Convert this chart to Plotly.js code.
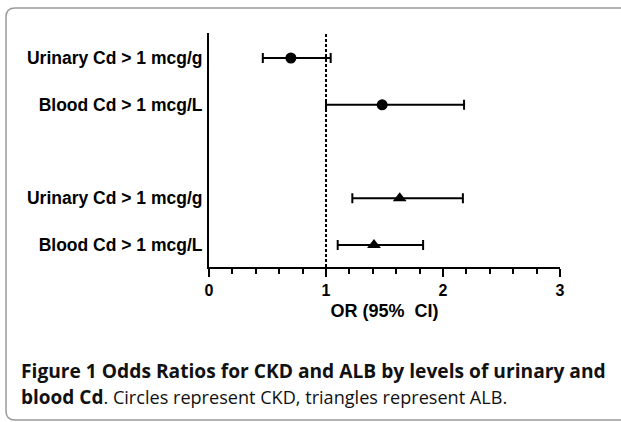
<!DOCTYPE html>
<html><head><meta charset="utf-8">
<script src="https://cdn.plot.ly/plotly-3.0.1.min.js"></script>
<style>html,body{margin:0;padding:0;background:#fff;}</style>
</head><body>
<div id="chart" style="width:621px;height:422px;"></div>
<script>
// Data
const rowLabels = ["Urinary Cd > 1 mcg/g", "Blood Cd > 1 mcg/L", "Urinary Cd > 1 mcg/g", "Blood Cd > 1 mcg/L"];
const rowPos = [5, 4, 2, 1];
// CKD (circles)
const ckdOR = [0.70, 1.48];
const ckdLow = [0.46, 1.00];
const ckdHigh = [1.04, 2.18];
const ckdRows = [5, 4];
// ALB (triangles)
const albOR = [1.63, 1.41];
const albLow = [1.225, 1.10];
const albHigh = [2.17, 1.83];
const albRows = [2, 1];
const xTicks = [0, 1, 2, 3];

const W = 621, H = 422;
const ml = 209, mr = W - 560, mt = 33, mb = H - 267;
const pw = W - ml - mr, ph = H - mt - mb;
const px = v => (v - ml) / pw;
const py = v => (H - mb - v) / ph;

function trace(xs, lows, highs, ys, sym) {
  return {
    type: 'scatter', mode: 'markers', x: xs, y: ys,
    marker: {symbol: sym, size: sym === 'circle' ? 11 : 12, color: '#000'},
    error_x: {type: 'data', symmetric: false,
      array: xs.map((v, i) => highs[i] - v),
      arrayminus: xs.map((v, i) => v - lows[i]),
      color: '#000', thickness: 2, width: 5},
    hoverinfo: 'x+y', showlegend: false, cliponaxis: false
  };
}

const data = [
  trace(ckdOR, ckdLow, ckdHigh, ckdRows, 'circle'),
  trace(albOR, albLow, albHigh, albRows, 'triangle-up')
];

// Rounded frame (partially visible panel)
const r = 9;
const x0 = 6, y0 = 8, x1 = 640, y1 = 420;
const framePath = `M ${px(x1)} ${py(y0)} L ${px(x0 + r)} ${py(y0)} Q ${px(x0)} ${py(y0)} ${px(x0)} ${py(y0 + r)} L ${px(x0)} ${py(y1 - r)} Q ${px(x0)} ${py(y1)} ${px(x0 + r)} ${py(y1)} L ${px(x1)} ${py(y1)}`;

const layout = {
  width: W, height: H,
  margin: {l: ml, r: mr, t: mt, b: mb, pad: 0},
  paper_bgcolor: '#fff', plot_bgcolor: '#fff',
  font: {family: 'Liberation Sans, Arial, sans-serif', color: '#000'},
  xaxis: {
    range: [0, 3], tickvals: xTicks, ticktext: xTicks.map(v => '<b>' + v + '</b>'),
    showgrid: false, zeroline: false, showline: true, linecolor: '#000', linewidth: 2,
    ticks: 'outside', ticklen: 8, tickwidth: 2, tickcolor: '#000',
    minor: {dtick: 0.2, ticks: 'outside', ticklen: 5, tickwidth: 2, tickcolor: '#000', showgrid: false},
    tickfont: {size: 16, family: 'Liberation Sans, Arial, sans-serif'},
    title: {text: '<b>OR (95%  CI)</b>', font: {size: 18}, standoff: 6},
    fixedrange: true
  },
  yaxis: {
    range: [0.53, 5.535], tickvals: rowPos, ticktext: rowLabels.map(s => '<b>' + s + '</b>'),
    showgrid: false, zeroline: false, showline: true, linecolor: '#000', linewidth: 2,
    ticks: '', ticklabelstandoff: 1,
    tickfont: {size: 17.5, family: 'Liberation Sans, Arial, sans-serif'},
    fixedrange: true
  },
  shapes: [
    {type: 'line', xref: 'x', yref: 'paper', x0: 1, x1: 1, y0: 0, y1: 1,
     line: {color: '#000', width: 2, dash: '3px,2px'}},
    {type: 'path', xref: 'paper', yref: 'paper', path: framePath,
     line: {color: '#9a9a9a', width: 1.5}, fillcolor: 'rgba(0,0,0,0)'}
  ],
  annotations: [
    {xref: 'paper', yref: 'paper', x: px(19), y: py(370), xanchor: 'left', yanchor: 'middle',
     showarrow: false, align: 'left',
     text: '<b>Figure 1 Odds Ratios for CKD and ALB by levels of urinary and</b>',
     font: {family: 'Open Sans, Noto Sans, sans-serif', size: 19.2, color: '#111'}},
    {xref: 'paper', yref: 'paper', x: px(19), y: py(397), xanchor: 'left', yanchor: 'middle',
     showarrow: false, align: 'left',
     text: '<span style="font-size:19px"><b>blood Cd</b></span>. Circles represent CKD, triangles represent ALB.',
     font: {family: 'Open Sans, Noto Sans, sans-serif', size: 18.1, color: '#111'}}
  ]
};

Plotly.newPlot('chart', data, layout, {staticPlot: true, displayModeBar: false});
</script>
</body></html>
